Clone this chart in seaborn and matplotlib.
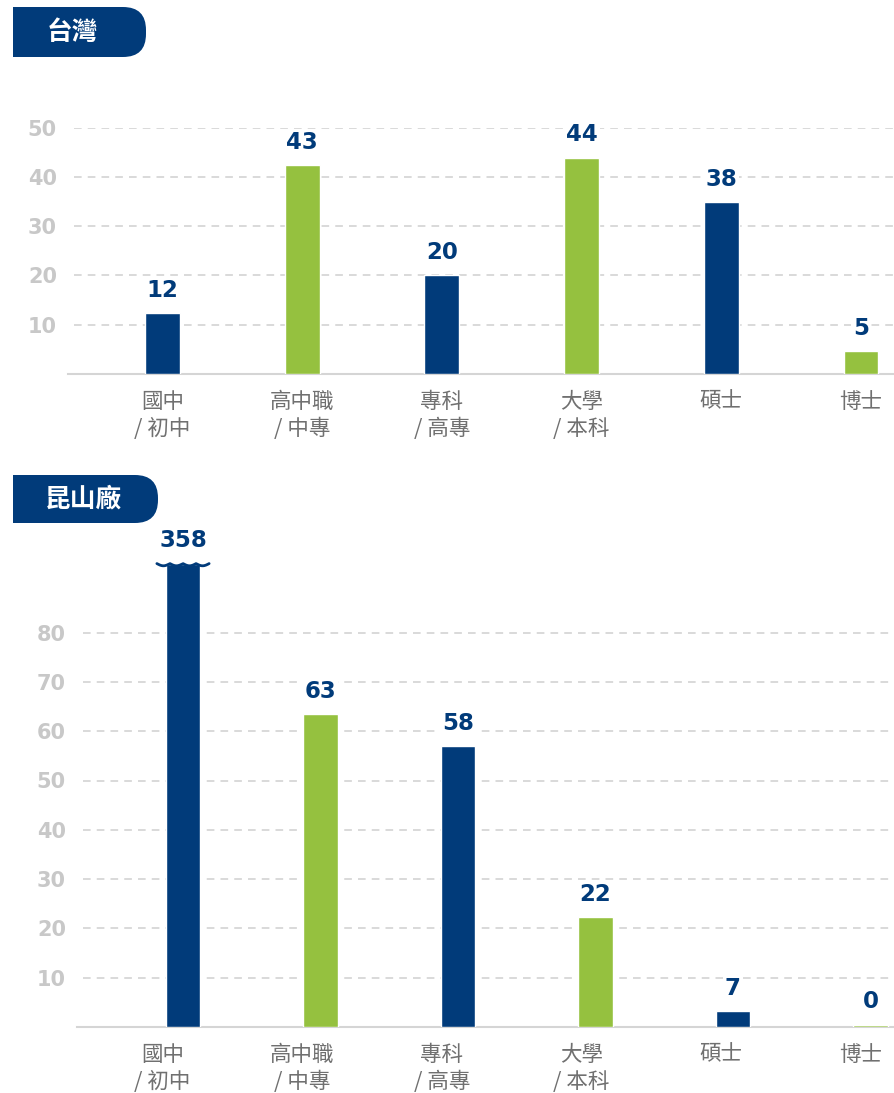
"""
Education level headcount: Taiwan vs Kunshan plant, two stacked bar panels.
"""

import numpy as np
import matplotlib
matplotlib.use("Agg")
import matplotlib.pyplot as plt
import matplotlib.patches as mpatches
from matplotlib.transforms import IdentityTransform
import pandas as pd
import seaborn as sns

# ---- data -------------------------------------------------------------
categories = ["國中\n/ 初中", "高中職\n/ 中專", "專科\n/ 高專", "大學\n/ 本科", "碩士", "博士"]

tw_title = "台灣"
tw_labels = [12, 43, 20, 44, 38, 5]
tw_heights = [12.4, 42.4, 20.1, 43.9, 34.9, 4.7]   # bar heights as drawn
tw_ticks = [10, 20, 30, 40, 50]

ks_title = "昆山廠"
ks_labels = [358, 63, 58, 22, 7, 0]
ks_heights = [94, 63.5, 57, 22.3, 3.2, 0.5]        # first bar is cut off
ks_ticks = [10, 20, 30, 40, 50, 60, 70, 80]

NAVY = "#013b7a"
GREEN = "#95c13f"
palette = [NAVY, GREEN, NAVY, GREEN, NAVY, GREEN]

NUM_FONT = ["DejaVu Sans"]
CJK_FONT = ["Noto Sans CJK TC", "DejaVu Sans"]

# ---- style ------------------------------------------------------------
sns.set_theme(style="white")
plt.rcParams["font.family"] = ["DejaVu Sans", "Noto Sans CJK TC"]

W, H = 895, 1093
fig = plt.figure(figsize=(W / 100, H / 100), dpi=100)

# panel geometry (pixels): first bar centre and spacing
TOP_X0, TOP_STEP = 162.5, 139.7
BOT_X0, BOT_STEP = 183.0, 137.5


def px_axes(left, top, right, bottom):
    return fig.add_axes([left / W, 1 - bottom / H, (right - left) / W, (bottom - top) / H])


def badge(x0, y0, x1, y1, text, cx):
    h = y1 - y0
    r = 23
    fb = mpatches.FancyBboxPatch((x0, H - y1), x1 - x0, h,
                                 boxstyle=f"round,pad=0,rounding_size={r}",
                                 transform=IdentityTransform(), fc=NAVY, ec="none")
    sq = mpatches.Rectangle((x0, H - y1), r + 5, h, transform=IdentityTransform(),
                            fc=NAVY, ec="none")
    fig.add_artist(fb)
    fig.add_artist(sq)
    fig.text(cx / W, 1 - (y0 + y1) / 2 / H, text, color="white", fontsize=18.5,
             fontweight="bold", ha="center", va="center", family=CJK_FONT)


def panel(ax, heights, labels, ticks, ylim, left_px, x0, step, tick_pos):
    df = pd.DataFrame({"cat": categories, "h": heights})
    sns.barplot(data=df, x="cat", y="h", hue="cat", palette=palette,
                width=0.25, legend=False, ax=ax, saturation=1)
    for p in ax.patches:
        p.set_zorder(3)
    ax.set_xlim(-(x0 - left_px) / step, (W - x0) / step)
    ax.set_ylim(*ylim)
    ax.set_yticks(ticks)
    ax.set_yticklabels([str(t) for t in ticks], color="#c8c8c8",
                       fontsize=15, fontweight="bold", family=NUM_FONT)
    ax.tick_params(axis="y", length=0, pad=8)
    ax.tick_params(axis="x", length=0, pad=12)
    ax.set_xticks(tick_pos)
    ax.set_xticklabels(categories, color="#707070", fontsize=15.5,
                       linespacing=1.3, fontweight="light", family=CJK_FONT)
    ax.set_xlabel("")
    ax.set_ylabel("")
    for t in ticks:
        ax.axhline(t, xmin=0.007, xmax=1, color="#cfcfcf", lw=1.1,
                   ls=(0, (5, 4)), zorder=0)
    for s in ["top", "right", "left"]:
        ax.spines[s].set_visible(False)
    ax.spines["bottom"].set_color("#d5d5d5")
    ax.spines["bottom"].set_linewidth(1.5)
    for i, (h, lab) in enumerate(zip(heights, labels)):
        ax.annotate(str(lab), (i, h), xytext=(0, 8), textcoords="offset points",
                    ha="center", va="bottom", color=NAVY, fontsize=16.5,
                    fontweight="bold", family=NUM_FONT, zorder=5,
                    bbox=dict(fc="white", ec="none", pad=1.5))


n = len(categories)

# top panel: Taiwan
ax1 = px_axes(68, 127.5, W, 374)
panel(ax1, tw_heights, tw_labels, tw_ticks, (0, 50), 68, TOP_X0, TOP_STEP,
      list(range(n)))
badge(13, 7, 146, 57, tw_title, 72)

# bottom panel: Kunshan plant; its category labels sit in the same columns as the top panel
ax2 = px_axes(77, 534, W, 1027)
bot_ticks = [(TOP_X0 + TOP_STEP * i - BOT_X0) / BOT_STEP for i in range(n)]
panel(ax2, ks_heights, ks_labels, ks_ticks, (0, 100), 77, BOT_X0, BOT_STEP,
      bot_ticks)
badge(13, 475, 158, 523, ks_title, 84)

# wavy break mark on the cut-off bar
bar = ax2.patches[0]
bx0 = bar.get_x() - 0.065
bx1 = bar.get_x() + bar.get_width() + 0.065
top = bar.get_height()
xs = np.linspace(bx0, bx1, 200)
ys = top - 0.45 * np.abs(np.sin(np.pi * 4 * (xs - bx0) / (bx1 - bx0)))
ax2.plot(xs, ys, color=NAVY, lw=2, clip_on=False, zorder=6)

fig.savefig("out.png", dpi=100)
